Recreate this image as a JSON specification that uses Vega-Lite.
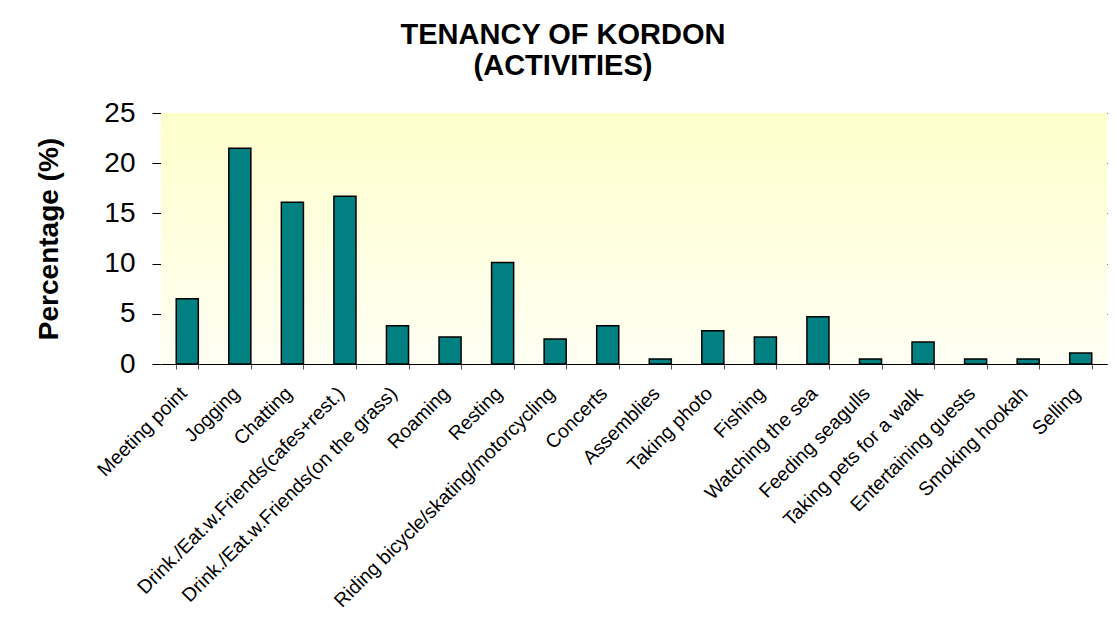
{
  "$schema": "https://vega.github.io/schema/vega-lite/v6.json",
  "width": 946,
  "height": 251,
  "autosize": "none",
  "padding": {"left": 161, "top": 113, "right": 7, "bottom": 253},
  "background": "white",
  "config": {
    "font": "Liberation Sans",
    "view": {"stroke": null}
  },
  "title": {
    "text": ["TENANCY OF KORDON", "(ACTIVITIES)"],
    "font": "Liberation Sans",
    "fontSize": 29,
    "fontWeight": "bold",
    "color": "black",
    "lineHeight": 31,
    "anchor": "middle",
    "dx": -71,
    "offset": 18
  },
  "datasets": {
    "activities": [
      {"activity": "Meeting point", "pct": 6.5},
      {"activity": "Jogging", "pct": 21.5},
      {"activity": "Chatting", "pct": 16.1},
      {"activity": "Drink./Eat.w.Friends(cafes+rest.)", "pct": 16.7},
      {"activity": "Drink./Eat.w.Friends(on the grass)", "pct": 3.8},
      {"activity": "Roaming", "pct": 2.7},
      {"activity": "Resting", "pct": 10.1},
      {"activity": "Riding bicycle/skating/motorcycling", "pct": 2.5},
      {"activity": "Concerts", "pct": 3.8},
      {"activity": "Assemblies", "pct": 0.5},
      {"activity": "Taking photo", "pct": 3.3},
      {"activity": "Fishing", "pct": 2.7},
      {"activity": "Watching the sea", "pct": 4.7},
      {"activity": "Feeding seagulls", "pct": 0.5},
      {"activity": "Taking pets for a walk", "pct": 2.2},
      {"activity": "Entertaining guests", "pct": 0.5},
      {"activity": "Smoking hookah", "pct": 0.5},
      {"activity": "Selling", "pct": 1.1}
    ],
    "bg": [{"panel": "plot"}]
  },
  "layer": [
    {
      "data": {"name": "bg"},
      "mark": {
        "type": "rect",
        "fill": {
          "gradient": "linear",
          "x1": 0, "y1": 0, "x2": 0, "y2": 1,
          "stops": [
            {"offset": 0, "color": "#ffffcc"},
            {"offset": 1, "color": "#fffff4"}
          ]
        }
      },
      "encoding": {}
    },
    {
      "data": {"name": "activities"},
      "mark": {"type": "bar", "fill": "#008080", "stroke": "black", "strokeWidth": 1.5},
      "encoding": {
        "x": {
          "field": "activity",
          "type": "nominal",
          "sort": null,
          "scale": {"paddingInner": 0.58, "paddingOuter": 0.29},
          "axis": {
            "title": null,
            "labelAngle": -45,
            "labelAlign": "right",
            "labelBaseline": "middle",
            "labelFontSize": 19.5,
            "labelColor": "black",
            "labelPadding": 21,
            "labelOffset": -4,
            "labelLimit": 600,
            "domainColor": "black",
            "domainWidth": 1,
            "tickColor": "#555555",
            "tickSize": 5,
            "tickBand": "extent",
            "grid": false
          }
        },
        "y": {
          "field": "pct",
          "type": "quantitative",
          "scale": {"domain": [0, 25], "nice": false},
          "axis": {
            "title": "Percentage (%)",
            "titleFontSize": 28,
            "titleFontWeight": "bold",
            "titleColor": "black",
            "titlePadding": 40,
            "values": [0, 5, 10, 15, 20, 25],
            "labelFontSize": 28,
            "labelColor": "black",
            "labelPadding": 17,
            "tickSize": 9,
            "tickColor": "black",
            "domainColor": "#808080",
            "grid": true,
            "gridColor": "black",
            "gridOpacity": 1,
            "gridWidth": 1
          }
        }
      }
    }
  ]
}
